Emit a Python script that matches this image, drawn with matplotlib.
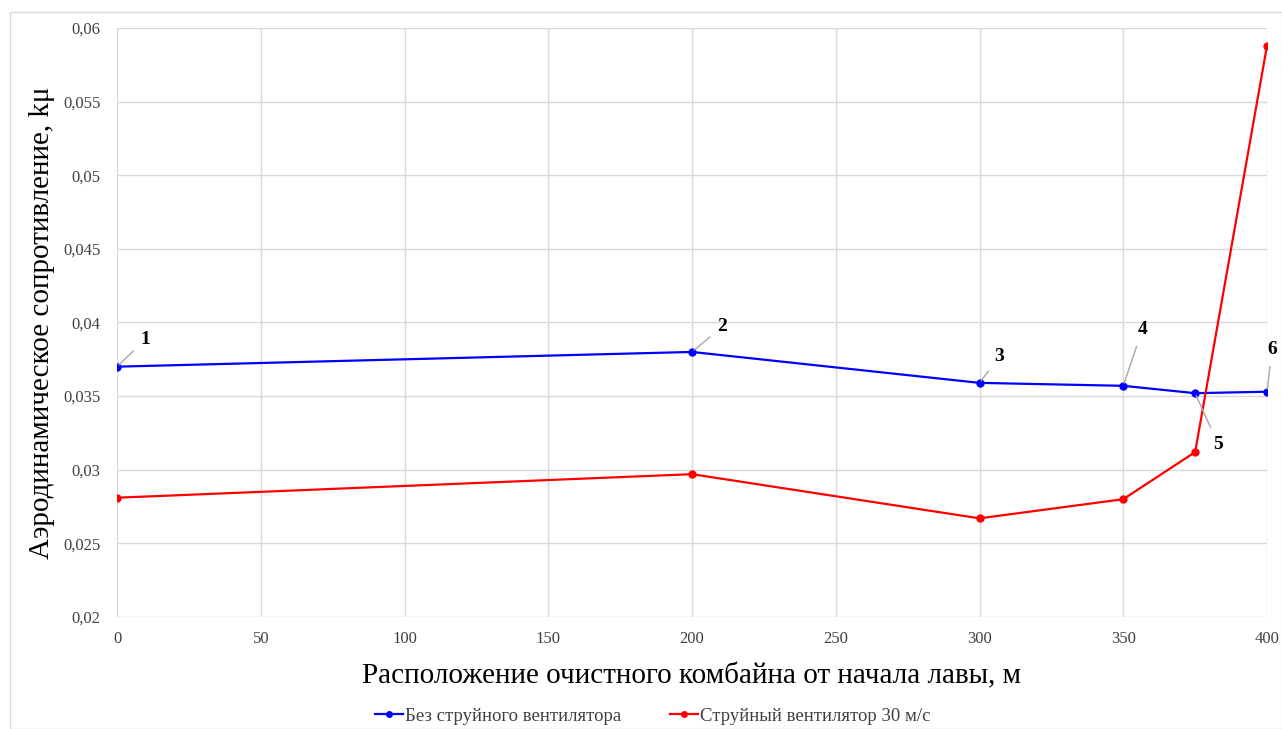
import matplotlib.pyplot as plt
from matplotlib.patches import Rectangle
from matplotlib.ticker import FuncFormatter

# distance of the shearer from the start of the longwall, m
position = [0, 200, 300, 350, 375, 400]
no_fan = [0.0370, 0.0380, 0.0359, 0.0357, 0.0352, 0.0353]
fan_30 = [0.0281, 0.0297, 0.0267, 0.0280, 0.0312, 0.0588]
point_labels = ["1", "2", "3", "4", "5", "6"]
label_offsets = [(28, 27), (30, 25), (20, 26), (19, 56), (23, -51), (5, 42)]

plt.rcParams['font.family'] = ['Liberation Serif', 'DejaVu Serif']

fig = plt.figure(figsize=(12.82, 7.29), dpi=100)
fig.patches.append(Rectangle((10 / 1282, 0), 1 - 10 / 1282, 1 - 12 / 729,
                             transform=fig.transFigure, fill=False,
                             edgecolor='#d9d9d9', linewidth=1))
ax = fig.add_axes([117 / 1282, 1 - 617 / 729, 1150 / 1282, 589 / 729])

ax.plot(position, no_fan, color='#0000ff', marker='o', markersize=5,
        linewidth=1.6, label="Без струйного вентилятора", zorder=3)
ax.plot(position, fan_30, color='#ff0000', marker='o', markersize=5,
        linewidth=1.6, label="Струйный вентилятор 30 м/с", zorder=3)

for x, y, txt, off in zip(position, no_fan, point_labels, label_offsets):
    ax.annotate(txt, (x, y), xytext=off, textcoords='offset pixels',
                ha='center', va='center', fontsize=14, fontweight='bold',
                arrowprops=dict(arrowstyle='-', color='#a6a6a6', lw=1,
                                shrinkA=4, shrinkB=2))

ax.set_xlim(0, 400)
ax.set_ylim(0.02, 0.06)
ax.set_xticks([0, 50, 100, 150, 200, 250, 300, 350, 400])
ax.set_yticks([0.02, 0.025, 0.03, 0.035, 0.04, 0.045, 0.05, 0.055, 0.06])
ax.yaxis.set_major_formatter(FuncFormatter(
    lambda v, p: ('%g' % round(v, 4)).replace('.', ',')))
ax.tick_params(length=0, labelsize=12, pad=10, colors='#404040')
ax.tick_params(axis='y', pad=12)
ax.grid(True, color='#d9d9d9', linewidth=1)
ax.set_axisbelow(True)
for s in ax.spines.values():
    s.set_visible(False)

ax.set_xlabel("Расположение очистного комбайна от начала лавы, м",
              fontsize=21, labelpad=12)
ax.set_ylabel("Аэродинамическое сопротивление, kμ", fontsize=21, labelpad=6)

fig.legend(loc='center', bbox_to_anchor=(0.509, 1 - 716 / 729), ncol=2,
           frameon=False, fontsize=13.5, handlelength=1.5, handletextpad=0.1,
           columnspacing=2.6, markerscale=0.8, labelcolor='#404040')

fig.savefig("out.png", dpi=100)
